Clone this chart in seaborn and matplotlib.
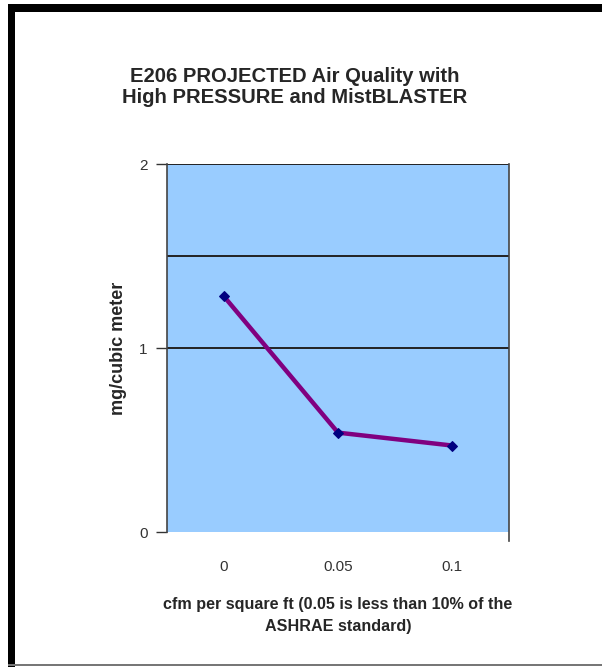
import matplotlib
matplotlib.use('Agg')
import matplotlib.pyplot as plt
from matplotlib.patches import Rectangle
import seaborn as sns

# ── 데이터 ────────────────────────────────────────────────────────────
CFM_LABELS = ['0', '0.05', '0.1']
MG_VALUES  = [1.28, 0.54, 0.47]
Y_TICKS    = [0, 1, 2]
GRID_LINES = [1.0, 1.5, 2.0]

TITLE  = 'E206 PROJECTED Air Quality with\nHigh PRESSURE and MistBLASTER'
XLABEL = 'cfm per square ft (0.05 is less than 10% of the\nASHRAE standard)'
YLABEL = 'mg/cubic meter'

W, H = 602, 667

sns.set_style('white')
plt.rcParams['font.family'] = ['Liberation Sans', 'DejaVu Sans']

fig = plt.figure(figsize=(W / 100, H / 100), dpi=100)
ax = fig.add_axes([167 / W, 1 - 532 / H, 342 / W, 368 / H])
ax.set_facecolor('#99CCFF')

for g in GRID_LINES:
    ax.axhline(g, color='#222222', lw=1.4, zorder=1)

sns.lineplot(x=CFM_LABELS, y=MG_VALUES, sort=False, ax=ax,
             color='#800080', lw=3.2, marker='D', markersize=5.5,
             markerfacecolor='#000080', markeredgecolor='#000080', zorder=3)

ax.set_xlim(-0.5, 2.5)
ax.set_ylim(0, 2)
ax.set_yticks(Y_TICKS)
ax.set_yticklabels([str(v) for v in Y_TICKS], fontsize=11, color='#333333')
ax.set_xticks(range(len(CFM_LABELS)))
ax.set_xticklabels(CFM_LABELS, fontsize=11, color='#333333')
ax.set_xticks([-0.5, 0.5, 1.5, 2.5], minor=True)
ax.tick_params(axis='x', which='major', length=0, pad=20)
ax.tick_params(axis='x', which='minor', length=8, width=1, color='#333333', direction='out')
ax.tick_params(axis='y', length=8, width=1, color='#333333', direction='out', pad=6, left=True)

for side in ['left', 'right']:
    ax.spines[side].set_color('#444444')
    ax.spines[side].set_linewidth(1.2)
ax.spines['top'].set_visible(False)
ax.spines['bottom'].set_visible(False)
ax.spines['right'].set_bounds(-0.05, 2)

ax.set_ylabel(YLABEL, fontsize=13, fontweight='bold', labelpad=9)
ax.set_xlabel(XLABEL, fontsize=11.6, fontweight='bold', labelpad=17, linespacing=1.55)

fig.text(0.49, 1 - 87 / H, TITLE, ha='center', va='center', fontsize=14.6,
         fontweight='bold', linespacing=1.15)

# 프레임
fig.patches.append(Rectangle((8 / W, 1 - 12 / H), 1, 8 / H, transform=fig.transFigure,
                             facecolor='black', edgecolor='none', zorder=5))
fig.patches.append(Rectangle((8 / W, 0), 7 / W, 1 - 4 / H, transform=fig.transFigure,
                             facecolor='black', edgecolor='none', zorder=5))
fig.patches.append(Rectangle((8 / W, 1 / H), 1, 2 / H, transform=fig.transFigure,
                             facecolor='#777777', edgecolor='none', zorder=5))

fig.savefig('out.png', dpi=100)
